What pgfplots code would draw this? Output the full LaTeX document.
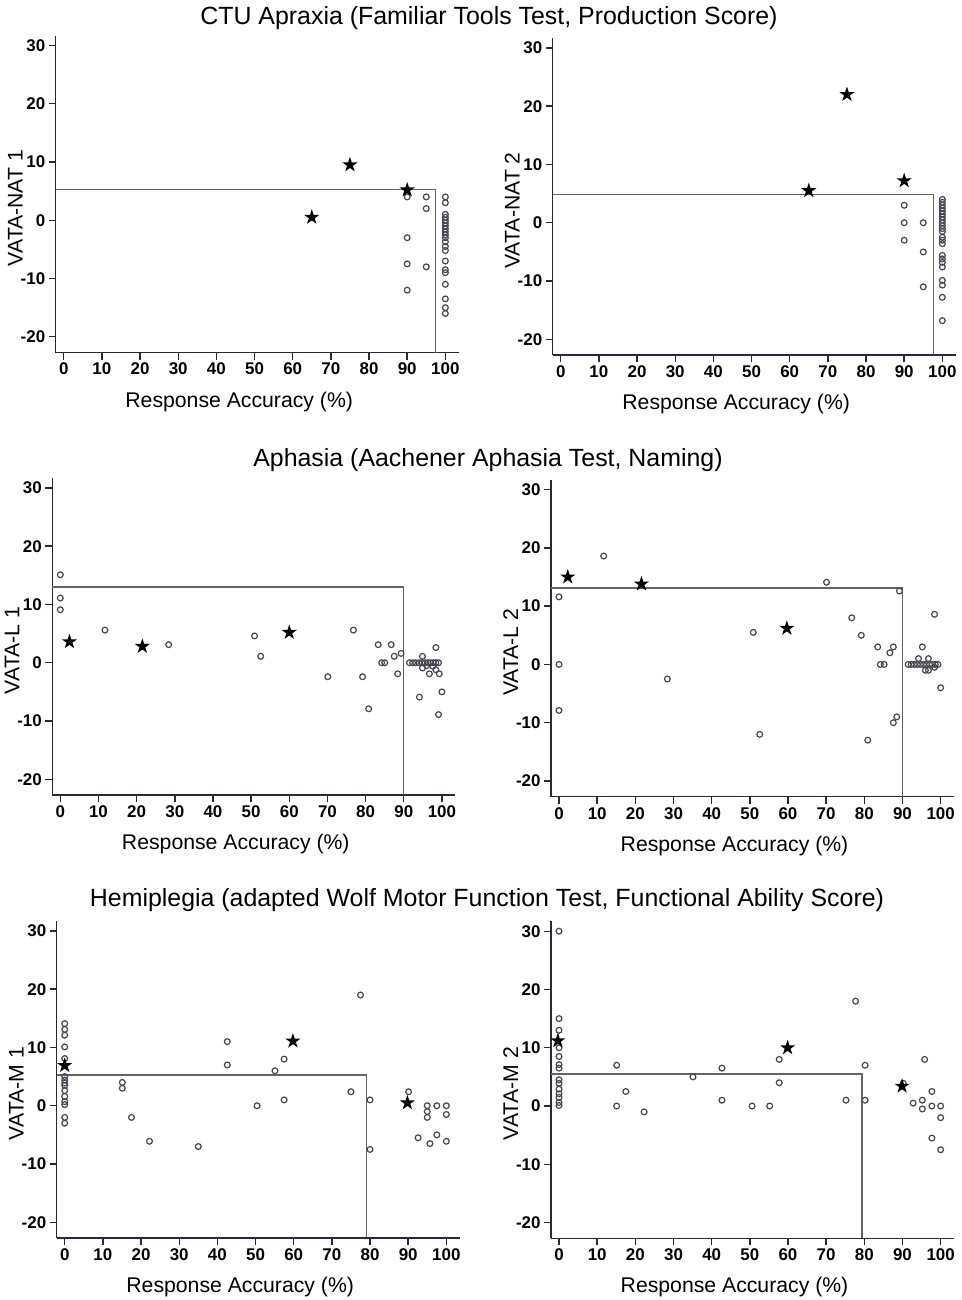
\documentclass[border=0pt]{standalone}
\usepackage{fontspec}
\setmainfont{Liberation Sans}
\usepackage{pgfplots}
\pgfplotsset{compat=1.18}
\definecolor{axcol}{RGB}{40,40,60}
\definecolor{circcol}{RGB}{70,70,80}
\definecolor{cutcol}{RGB}{100,100,100}
\pgfdeclareplotmark{fstar}{%
  \pgfpathmoveto{\pgfqpoint{0pt}{\pgfplotmarksize}}%
  \pgfpathlineto{\pgfqpoint{-0.2245\pgfplotmarksize}{0.309\pgfplotmarksize}}%
  \pgfpathlineto{\pgfqpoint{-0.9511\pgfplotmarksize}{0.309\pgfplotmarksize}}%
  \pgfpathlineto{\pgfqpoint{-0.3633\pgfplotmarksize}{-0.118\pgfplotmarksize}}%
  \pgfpathlineto{\pgfqpoint{-0.5878\pgfplotmarksize}{-0.809\pgfplotmarksize}}%
  \pgfpathlineto{\pgfqpoint{0pt}{-0.382\pgfplotmarksize}}%
  \pgfpathlineto{\pgfqpoint{0.5878\pgfplotmarksize}{-0.809\pgfplotmarksize}}%
  \pgfpathlineto{\pgfqpoint{0.3633\pgfplotmarksize}{-0.118\pgfplotmarksize}}%
  \pgfpathlineto{\pgfqpoint{0.9511\pgfplotmarksize}{0.309\pgfplotmarksize}}%
  \pgfpathlineto{\pgfqpoint{0.2245\pgfplotmarksize}{0.309\pgfplotmarksize}}%
  \pgfpathclose\pgfusepathqfill}
\pgfplotsset{
  myax/.style={
    scale only axis, width=403bp, height=317bp,
    xmin=-2.1, xmax=103.5, ymin=-22.7, ymax=31.7,
    axis lines=left, axis line style={-, line width=1.4bp, color=axcol},
    tick align=outside, major tick length=7bp,
    every tick/.style={line width=1.4bp, color=axcol},
    xtick={0,10,...,100}, ytick={-20,-10,...,30},
    tick label style={font=\bfseries\fontsize{17}{20}\selectfont, text=black},
    /pgf/number format/assume math mode=true,
    xlabel={Response Accuracy (\%)},
    every axis x label/.style={at={(axis description cs:0.4553,-0.172)}, anchor=base, font=\fontsize{21.3}{25}\selectfont},
    every axis y label/.style={at={(axis description cs:-0.0819,0.456)}, rotate=90, anchor=base, font=\fontsize{21.3}{25}\selectfont},
    clip=false,
  },
  cut/.style={no marks, color=cutcol, line width=1.3bp},
  circ/.style={only marks, mark=o, mark size=2.9bp, mark options={line width=1.2bp, color=circcol}},
  stars/.style={only marks, mark=fstar, mark size=8bp, color=black},
}
\begin{document}
\begin{tikzpicture}
\useasboundingbox (0,0) rectangle (962bp,-1300bp);
\node[anchor=base, font=\fontsize{25}{30}\selectfont] at (489bp,-24bp) {CTU Apraxia (Familiar Tools Test, Production Score)};
\node[anchor=base, font=\fontsize{25}{30}\selectfont] at (488bp,-466bp) {Aphasia (Aachener Aphasia Test, Naming)};
\node[anchor=base, font=\fontsize{25}{30}\selectfont] at (487bp,-906bp) {Hemiplegia (adapted Wolf Motor Function Test, Functional Ability Score)};

% TL
\begin{axis}[myax, at={(55.7bp,-352.5bp)}, anchor=south west, ylabel={VATA-NAT 1}]
\addplot[cut] coordinates {(-2.1,5.3) (97.5,5.3) (97.5,-22.7)};
\addplot[circ] coordinates {(90,4) (90,-3) (90,-7.5) (90,-12)
(95,4) (95,2) (95,-8)
(100,4) (100,3) (100,1) (100,0.5) (100,0) (100,-0.5) (100,-1) (100,-1.5) (100,-2) (100,-2.5) (100,-3) (100,-3.7) (100,-4.5) (100,-5.2) (100,-7) (100,-8.5) (100,-9) (100,-11) (100,-13.5) (100,-15) (100,-16)};
\addplot[stars] coordinates {(65,0.5) (75,9.5) (90,5.2)};
\end{axis}

% TR
\begin{axis}[myax, at={(552.7bp,-355bp)}, anchor=south west, ylabel={VATA-NAT 2}]
\addplot[cut] coordinates {(-2.1,4.8) (97.7,4.8) (97.7,-22.7)};
\addplot[circ] coordinates {(90,3) (90,0) (90,-3) (95,0) (95,-5) (95,-11)
(100,4) (100,3.5) (100,3) (100,2.5) (100,2) (100,1.5) (100,1) (100,0.5) (100,0) (100,-0.5) (100,-1) (100,-1.5) (100,-2.5) (100,-3) (100,-3.6) (100,-5.6) (100,-6.2) (100,-6.8) (100,-7.6) (100,-9.9) (100,-10.7) (100,-12.8) (100,-16.8)};
\addplot[stars] coordinates {(65,5.5) (75,22) (90,7.2)};
\end{axis}

% ML
\begin{axis}[myax, at={(52.3bp,-795bp)}, anchor=south west, ylabel={VATA-L 1}]
\addplot[cut] coordinates {(-2.1,13) (90,13) (90,-22.7)};
\addplot[circ] coordinates {(0,15.1) (0,11.1) (0,9.1) (11.7,5.6) (28.4,3.1) (50.9,4.6) (52.5,1.1) (70.1,-2.4) (76.8,5.6) (79.2,-2.4) (80.8,-7.9) (83.3,3.1) (84.2,0) (85.0,0) (86.7,3.1) (87.5,1.1) (88.4,-1.9) (89.3,1.6)
(91.5,0) (92.3,0) (93.1,0) (94.0,0) (94.8,0) (95.6,0) (96.3,0) (97.0,0) (97.7,0) (98.4,0) (99.1,0) (94.9,1.1) (94.9,-0.9) (96,-0.5) (96.7,-1.9) (97.6,-0.6) (98.4,-1.2) (98.4,2.6) (99.3,-1.9) (100,-5) (94.1,-5.9) (99.1,-8.9)};
\addplot[stars] coordinates {(2.4,3.6) (21.5,2.8) (60,5.2)};
\end{axis}

% MR
\begin{axis}[myax, at={(551bp,-796.7bp)}, anchor=south west, ylabel={VATA-L 2}]
\addplot[cut] coordinates {(-2.1,13.1) (90,13.1) (90,-22.7)};
\addplot[circ] coordinates {(0,11.6) (0,0) (0,-7.9) (11.7,18.6) (28.4,-2.5) (50.9,5.5) (52.6,-12) (70.1,14.1) (76.7,8) (79.2,5) (80.9,-13) (83.5,3) (84.2,0) (85.2,0) (86.7,2) (87.6,3) (87.6,-10) (88.5,-9) (89.2,12.6)
(91.5,0) (92.3,0) (93.1,0) (93.9,0) (94.7,0) (95.5,0) (96.3,0) (97.1,0) (97.8,0) (98.6,0) (99.3,0) (94.2,1) (95.2,3) (96.8,1) (98.4,8.6) (100,-4) (96,-1) (96.8,-1) (98.4,-0.5)};
\addplot[stars] coordinates {(2.3,15) (21.6,13.8) (59.7,6.2)};
\end{axis}

% BL
\begin{axis}[myax, at={(56.7bp,-1238bp)}, anchor=south west, ylabel={VATA-M 1}]
\addplot[cut] coordinates {(-2.1,5.3) (79,5.3) (79,-22.7)};
\addplot[circ] coordinates {(0,14.1) (0,13.1) (0,12.1) (0,10.1) (0,8.1) (0,5) (0,4.4) (0,3.9) (0,3.5) (0,2.6) (0,1.6) (0,0.7) (0,0.2) (0,-2) (0,-3)
(15.1,4) (15.1,3) (17.5,-2) (22.2,-6.1) (35,-7) (42.6,11) (42.6,7) (50.4,0) (55.1,6) (57.5,8) (57.5,1) (75,2.4) (77.5,19) (80,1) (80,-7.5) (90.1,2.4) (92.6,-5.5) (95,0) (95,-1) (95,-2) (95.7,-6.5) (97.5,0) (97.5,-5) (100,0) (100,-1.5) (100,-6.1)};
\addplot[stars] coordinates {(0,6.9) (59.8,11.1) (89.8,0.5)};
\end{axis}

% BR
\begin{axis}[myax, at={(551bp,-1238.3bp)}, anchor=south west, ylabel={VATA-M 2}]
\addplot[cut] coordinates {(-2.1,5.5) (79.4,5.5) (79.4,-22.7)};
\addplot[circ] coordinates {(0,30) (0,15) (0,13) (0,10) (0,8.5) (0,7.1) (0,6.5) (0,4.5) (0,3.9) (0,2.9) (0,2.1) (0,1.5) (0,0.6) (0,0.1)
(15.1,7) (15.1,0) (17.5,2.5) (22.3,-1) (35.1,5) (42.7,6.5) (42.7,1) (50.6,0) (55.2,0) (57.7,8) (57.7,4) (75.2,1) (77.7,18) (80.2,7) (80.2,1) (90.2,3.9) (92.8,0.5) (95.2,1) (95.2,-0.5) (95.8,8) (97.7,2.5) (97.7,0) (97.7,-5.5) (100,0) (100,-2) (100,-7.5)};
\addplot[stars] coordinates {(-0.3,11.2) (59.9,10) (89.9,3.4)};
\end{axis}
\end{tikzpicture}
\end{document}
